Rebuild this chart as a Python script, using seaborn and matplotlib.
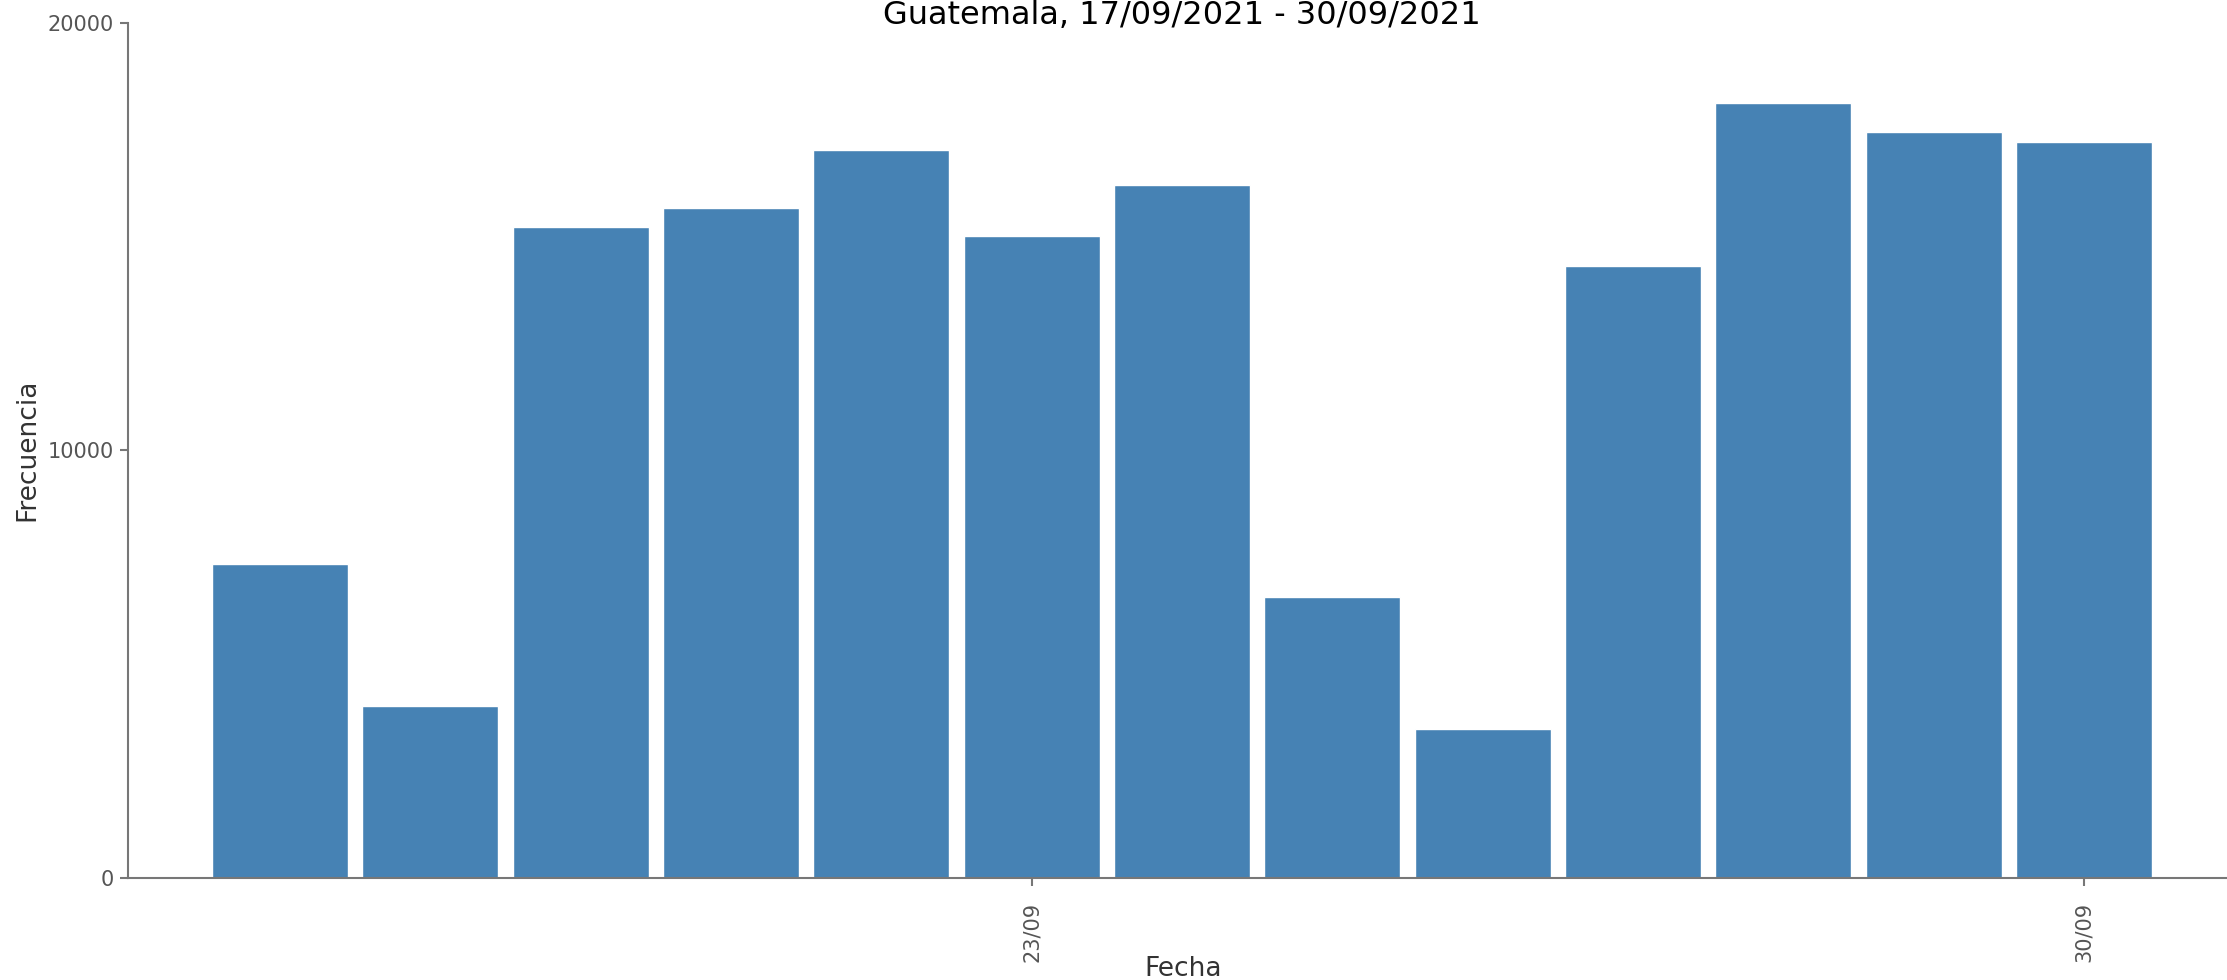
import matplotlib
matplotlib.use("Agg")
import matplotlib.pyplot as plt
import seaborn as sns
import pandas as pd

# Data
fechas = ["18/09", "19/09", "20/09", "21/09", "22/09", "23/09", "24/09",
          "25/09", "26/09", "27/09", "28/09", "29/09", "30/09"]
frecuencias = [7335, 4020, 15220, 15680, 17030, 15015, 16215,
               6565, 3493, 14305, 18130, 17440, 17207]
tick_fechas = ["23/09", "30/09"]
y_ticks = [0, 10000, 20000]
titulo = "Guatemala, 17/09/2021 - 30/09/2021"

sns.set_theme(style="white")
plt.rcParams["font.family"] = ["DejaVu Sans"]

W, H = 2227, 980
fig = plt.figure(figsize=(W / 100, H / 100), dpi=100)
ax = fig.add_axes([128 / W, 102 / H, 1 - 128 / W, 855 / H])

df = pd.DataFrame({"Fecha": fechas, "Frecuencia": frecuencias})
sns.barplot(data=df, x="Fecha", y="Frecuencia", order=fechas, color="#4682B4",
            saturation=1, width=0.904, ax=ax)

ax.set_xlim(-1.01, 12.95)
ax.set_ylim(0, 20000)

ax.set_xticks([fechas.index(t) for t in tick_fechas])
ax.set_xticklabels(tick_fechas, rotation=90)
ax.set_yticks(y_ticks)
ax.set_yticklabels([str(v) for v in y_ticks])

for s in ["top", "right"]:
    ax.spines[s].set_visible(False)
for s in ["left", "bottom"]:
    ax.spines[s].set_color("#777777")
    ax.spines[s].set_linewidth(1.5)

ax.tick_params(axis="both", which="major", direction="out", length=6, width=1.5,
               color="#777777", labelcolor="#555555", labelsize=15)
ax.tick_params(axis="x", pad=11, bottom=True)
ax.tick_params(axis="y", pad=4, left=True)

ax.set_xlabel("")
ax.set_ylabel("")

fig.text(1183 / W, 1 - 976 / H, "Fecha", ha="center", va="baseline",
         fontsize=19, color="#333333")
fig.text(27 / W, 1 - 450 / H, "Frecuencia", ha="center", va="center",
         rotation=90, fontsize=19, color="#333333")
fig.text(1182 / W, 1 - 15 / H, titulo, ha="center", va="center",
         fontsize=23, color="#000000")

fig.savefig("out.png", dpi=100)
